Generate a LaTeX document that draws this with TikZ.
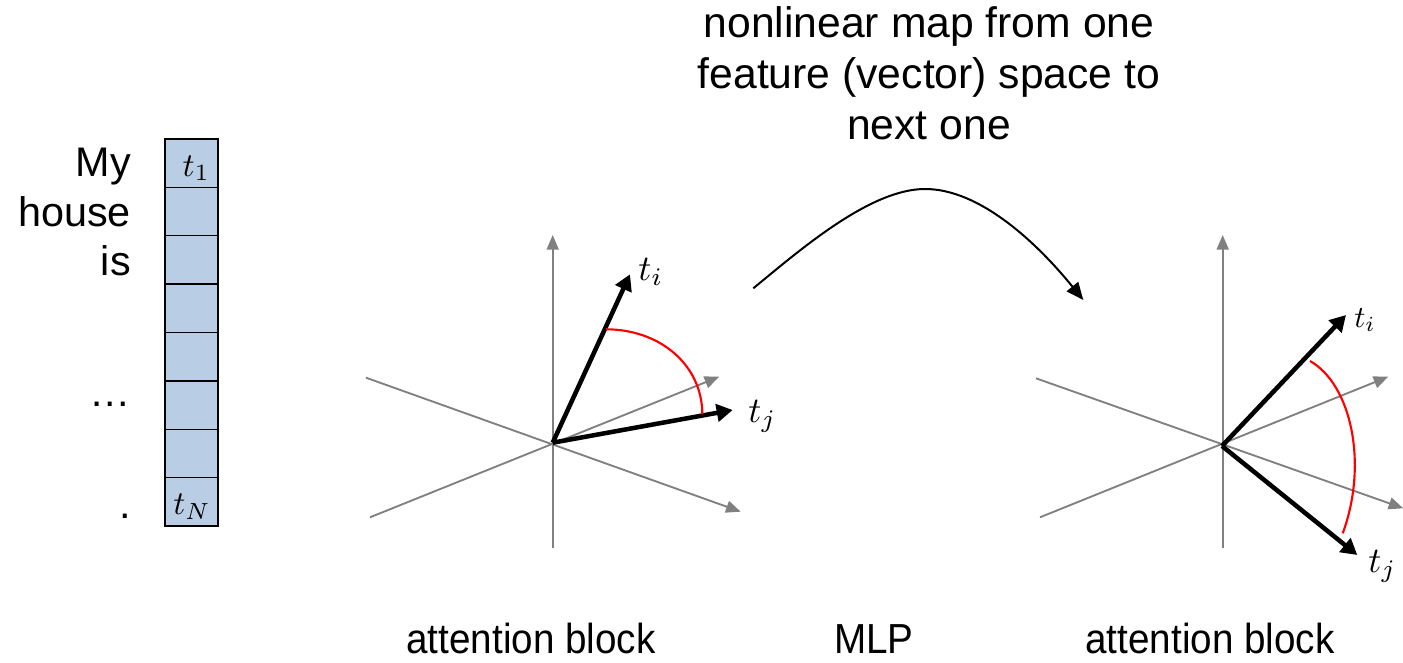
\documentclass[tikz,border=0pt]{standalone}
\usepackage{fontspec}
\usepackage{graphicx}
\setmainfont{Liberation Sans}
\usetikzlibrary{arrows.meta}
\definecolor{cellblue}{HTML}{B9CDE5}
\definecolor{axisgray}{HTML}{808080}
\newcommand{\vecmath}[1]{\scalebox{2.7}{$#1$}}
\tikzset{
  cellbox/.style={draw=black, line width=1.1pt, fill=cellblue, minimum width=39.75pt, minimum height=36.28pt, inner sep=0pt, outer sep=0pt},
  word/.style={font=\fontsize{31}{36}\selectfont, inner sep=0pt, anchor=base east},
  toptext/.style={font=\fontsize{32}{38}\selectfont, inner sep=0pt, anchor=base},
  bottomtext/.style={font=\fontsize{31.5}{36}\selectfont, inner sep=0pt, anchor=base},
  mathlbl/.style={inner sep=0pt},
  axisline/.style={draw=axisgray, line width=1.4pt, -{Triangle[length=11pt, width=9pt]}},
  vect/.style={draw=black, line width=3.4pt, -{Triangle[length=12pt, width=13pt]}},
  anglearc/.style={draw=red, line width=1.6pt},
  maparrow/.style={draw=black, line width=1.5pt, -{Triangle[length=13pt, width=11pt]}}
}
\begin{document}
\begin{tikzpicture}[x=0.75pt, y=-0.75pt]
\useasboundingbox (0,0) rectangle (1403,663);

% token column
\foreach \k in {1,...,8} {
  \node[cellbox] (c\k) at (191.5, {139 + (\k-0.5)*48.375}) {};
}
\node[mathlbl, anchor=base east] (lt1) at (210, 176) {\scalebox{2.5}{$t_1$}};
\node[mathlbl, anchor=base east] (ltN) at (211, 514) {\scalebox{2.5}{$t_N$}};

% words
\node[word] (wMy) at (131, 177) {My};
\node[word] (wHouse) at (131, 227) {house};
\node[word] (wIs) at (131, 275) {is};
\node[word] (wDots) at (131, 406) {\dots};
\node[word] (wDot) at (131, 518) {.};

% top text
\node[toptext] (top1) at (929, 38) {nonlinear map from one};
\node[toptext] (top2) at (929, 89) {feature (vector) space to};
\node[toptext] (top3) at (929, 140) {next one};

% bottom labels
\node[bottomtext] (lbA) at (531, 653) {\scalebox{0.92}[1]{attention block}};
\node[bottomtext] (lbM) at (874, 653) {\scalebox{0.92}[1]{MLP}};
\node[bottomtext] (lbB) at (1210, 653) {\scalebox{0.92}[1]{attention block}};

% left axes
\coordinate (O1) at (552.7, 442.7);
\coordinate (L1vb) at (552.7, 548);
\coordinate (L1vt) at (552.7, 235);
\coordinate (L1as) at (366, 377.7);
\coordinate (L1ae) at (740.7, 511.7);
\coordinate (L1bs) at (370, 517.3);
\coordinate (L1be) at (719.3, 376.7);
\draw[axisline] (L1vb) -- (L1vt);
\draw[axisline] (L1as) -- (L1ae);
\draw[axisline] (L1bs) -- (L1be);
\coordinate (L1ti) at (630, 274.3);
\coordinate (L1tj) at (732.7, 410);
\draw[vect] (O1) -- (L1ti);
\draw[vect] (O1) -- (L1tj);
\coordinate (L1r1) at (606, 329.3);
\coordinate (L1r2) at (702.3, 414.3);
\draw[anglearc] (L1r1) .. controls (660, 329.3) and (702.3, 365) .. (L1r2);
\node[mathlbl, anchor=base west] (L1lti) at (638, 280) {\vecmath{t_i}};
\node[mathlbl, anchor=base west] (L1ltj) at (748, 422) {\vecmath{t_j}};

% right axes
\coordinate (O2) at (1222, 446);
\coordinate (L2vb) at (1222.7, 548);
\coordinate (L2vt) at (1222.7, 235);
\coordinate (L2as) at (1036, 378.3);
\coordinate (L2ae) at (1403.3, 508.3);
\coordinate (L2bs) at (1040, 517.3);
\coordinate (L2be) at (1388.3, 376.7);
\draw[axisline] (L2vb) -- (L2vt);
\draw[axisline] (L2as) -- (L2ae);
\draw[axisline] (L2bs) -- (L2be);
\coordinate (L2ti) at (1346, 315);
\coordinate (L2tj) at (1357.3, 555);
\draw[vect] (O2) -- (L2ti);
\draw[vect] (O2) -- (L2tj);
\coordinate (L2r1) at (1310, 361);
\coordinate (L2r2) at (1342.7, 533.3);
\draw[anglearc] (L2r1) .. controls (1352, 385) and (1368, 465) .. (L2r2);
\node[mathlbl, anchor=base west] (L2lti) at (1354, 327) {\scalebox{2.3}{$t_i$}};
\node[mathlbl, anchor=base west] (L2ltj) at (1368, 572) {\vecmath{t_j}};

% nonlinear map arrow
\coordinate (Ms) at (753.3, 288.3);
\coordinate (Mp) at (925, 189);
\coordinate (Me) at (1083.3, 300);
\draw[maparrow] (Ms) .. controls (800, 250) and (870, 189) .. (Mp)
  .. controls (980, 189) and (1037, 243) .. (Me);
\end{tikzpicture}
\end{document}
